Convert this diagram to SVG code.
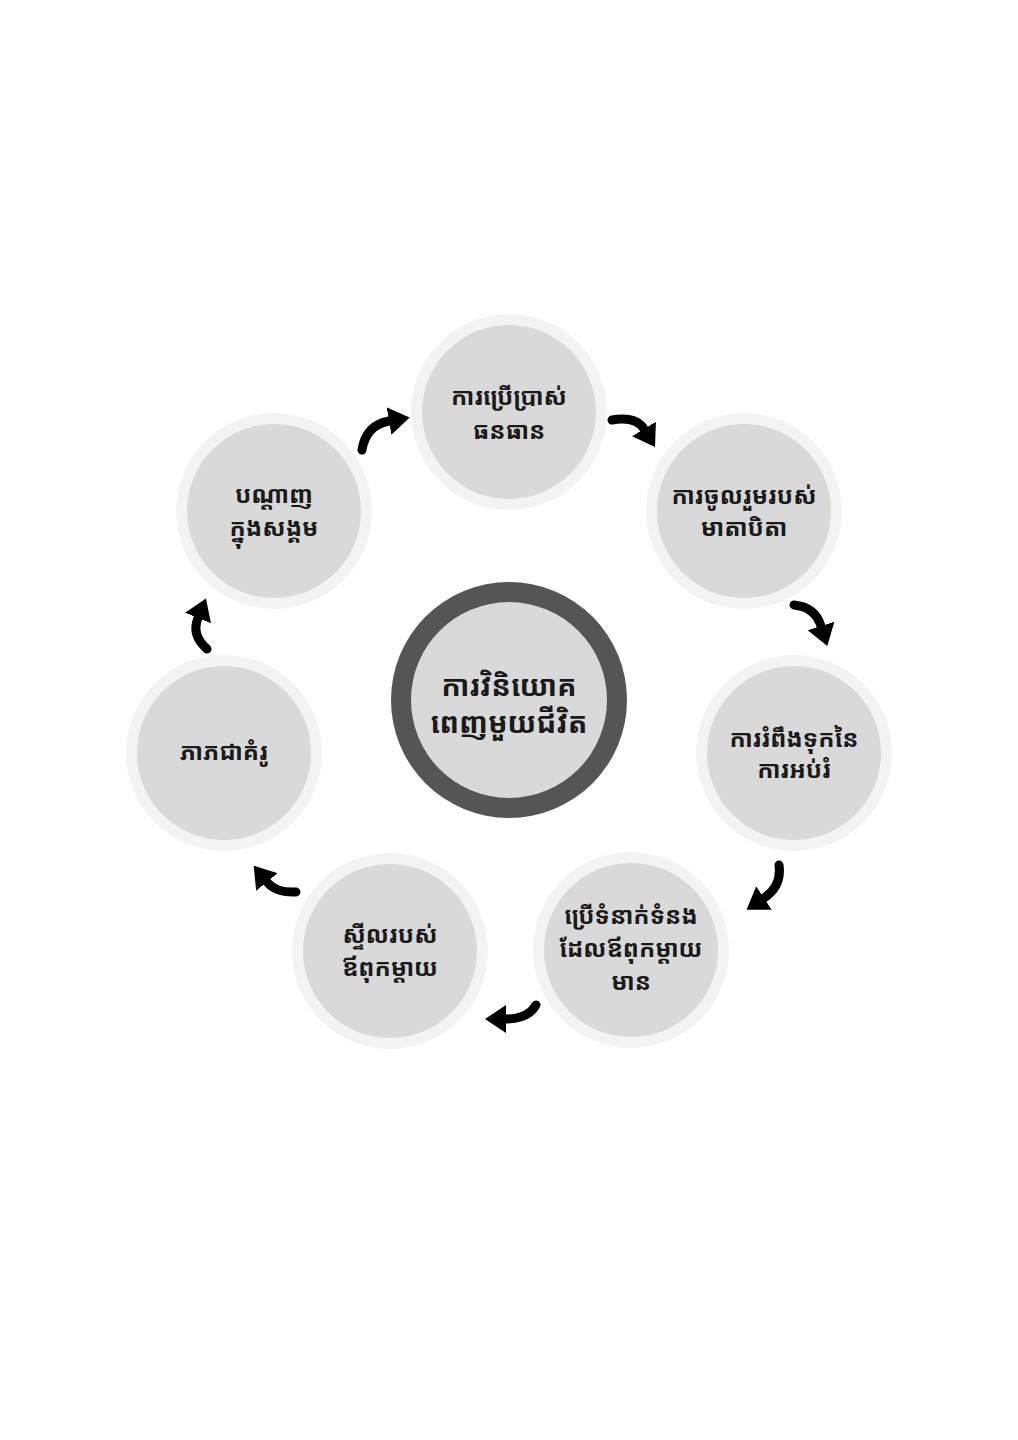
<svg xmlns="http://www.w3.org/2000/svg" width="1018" height="1440" viewBox="0 0 1018 1440">
<style>
.ring{fill:#f3f3f3}
.disk{fill:#d9d9d9}
.t{font-family:"Noto Sans Khmer","Khmer OS","Noto Sans","DejaVu Sans",sans-serif;font-weight:bold;font-size:24px;fill:#1a1a1a;text-anchor:middle}
.tc{font-size:29px}
.arr{fill:none;stroke:#000;stroke-width:9;stroke-linecap:round}
</style>
<defs>
<marker id="ah" viewBox="0 0 10 10" refX="0" refY="5" markerUnits="userSpaceOnUse" markerWidth="21" markerHeight="28" orient="auto" preserveAspectRatio="none">
<path d="M0,0 L10,5 L0,10 z" fill="#000"/>
</marker>
</defs>
<rect width="1018" height="1440" fill="#fff"/>
<g id="center">
<circle cx="509" cy="700" r="118" fill="#555"/>
<circle cx="509" cy="700" r="98" class="disk"/>
<text class="t tc" x="509" y="696">ការវិនិយោគ</text>
<text class="t tc" x="509" y="733">ពេញមួយជីវិត</text>
</g>
<g id="n1">
<circle cx="509" cy="412" r="98" class="ring"/>
<circle cx="509" cy="412" r="87" class="disk"/>
<text class="t" x="509" y="405">ការប្រើប្រាស់</text>
<text class="t" x="509" y="439">ធនធាន</text>
</g>
<g id="n2">
<circle cx="744" cy="511" r="98" class="ring"/>
<circle cx="744" cy="511" r="87" class="disk"/>
<text class="t" x="744" y="504">ការចូលរួមរបស់</text>
<text class="t" x="744" y="536">មាតាបិតា</text>
</g>
<g id="n3">
<circle cx="794" cy="753" r="98" class="ring"/>
<circle cx="794" cy="753" r="87" class="disk"/>
<text class="t" x="794" y="747">ការរំពឹងទុកនៃ</text>
<text class="t" x="794" y="778">ការអប់រំ</text>
</g>
<g id="n4">
<circle cx="631" cy="950" r="98" class="ring"/>
<circle cx="631" cy="950" r="87" class="disk"/>
<text class="t" x="631" y="924">ប្រើទំនាក់ទំនង</text>
<text class="t" x="631" y="957">ដែលឪពុកម្តាយ</text>
<text class="t" x="631" y="990">មាន</text>
</g>
<g id="n5">
<circle cx="390" cy="951" r="98" class="ring"/>
<circle cx="390" cy="951" r="87" class="disk"/>
<text class="t" x="390" y="943">ស្ទីលរបស់</text>
<text class="t" x="390" y="976">ឪពុកម្តាយ</text>
</g>
<g id="n6">
<circle cx="224" cy="753" r="98" class="ring"/>
<circle cx="224" cy="753" r="87" class="disk"/>
<text class="t" x="224" y="760">ភាភជាគំរូ</text>
</g>
<g id="n7">
<circle cx="274" cy="511" r="98" class="ring"/>
<circle cx="274" cy="511" r="87" class="disk"/>
<text class="t" x="274" y="503">បណ្តាញ</text>
<text class="t" x="274" y="536">ក្នុងសង្គម</text>
</g>
<g id="connectors">
<path class="arr" marker-end="url(#ah)" d="M362,450 Q366,425 389,421"/>
<path class="arr" marker-end="url(#ah)" d="M612,420 Q636,416 644,429"/>
<path class="arr" marker-end="url(#ah)" d="M794,605 Q815,607 821,626"/>
<path class="arr" marker-end="url(#ah)" d="M779,865 Q782,886 764,898"/>
<path class="arr" marker-end="url(#ah)" d="M536,1005 Q528,1019 506,1019"/>
<path class="arr" marker-end="url(#ah)" d="M296,892 Q276,893 267,882"/>
<path class="arr" marker-end="url(#ah)" d="M207,649 Q191,635 198,618"/>
</g>
</svg>
